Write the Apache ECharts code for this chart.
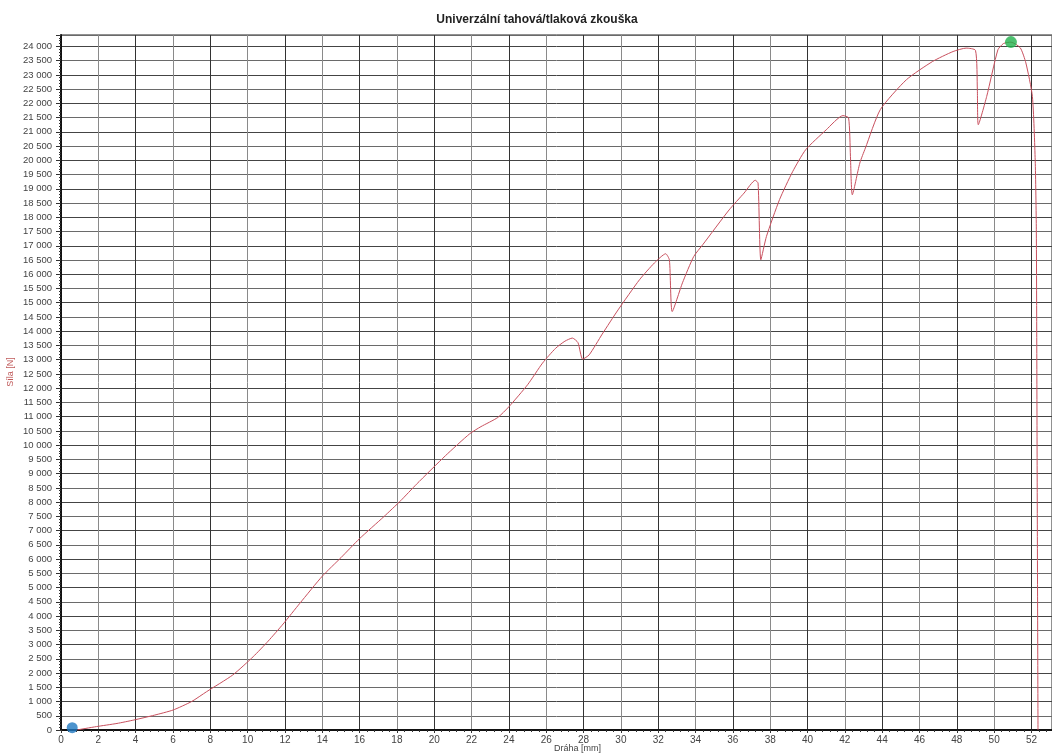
<!DOCTYPE html>
<html>
<head>
<meta charset="utf-8">
<script src="https://cdn.jsdelivr.net/npm/echarts@6/dist/echarts.min.js"></script>
<style>
html,body{margin:0;padding:0;background:#fff;}
#chart{width:1052px;height:754px;}
</style>
</head>
<body>
<div id="chart"></div>
<script>
// Distance [mm]
var drahaMm = [0.84, 1.9, 3.0, 3.9, 5.0, 6.0, 7.0, 7.8, 9.2, 10.3, 11.1, 11.9, 12.8, 14.0, 15.0, 16.0, 17.3, 18.2, 19.05, 20.6, 21.9, 22.5, 23.4, 24.0, 25.0, 25.8, 26.5, 27.0, 27.4, 27.7, 27.95, 28.3, 29.0, 29.85, 31.0, 31.8, 32.4, 32.6, 32.75, 33.3, 33.9, 34.4, 35.8, 36.6, 37.2, 37.35, 37.5, 37.8, 38.5, 39.2, 39.9, 41.0, 41.9, 42.2, 42.3, 42.4, 42.8, 43.1, 43.9, 45.3, 46.7, 47.8, 48.5, 49.0, 49.1, 49.15, 49.6, 50.2, 50.5, 50.9, 51.4, 51.7, 52.05, 52.2, 52.26, 52.3, 52.35];
// Force [N]
var silaN = [0, 120, 230, 350, 520, 700, 1000, 1345, 1930, 2575, 3120, 3720, 4450, 5400, 6050, 6720, 7490, 8050, 8630, 9630, 10400, 10650, 10970, 11350, 12120, 12880, 13400, 13650, 13760, 13600, 13020, 13170, 13900, 14750, 15810, 16400, 16720, 16500, 14690, 15700, 16620, 17050, 18260, 18850, 19300, 19200, 16510, 17330, 18620, 19600, 20370, 21070, 21570, 21490, 20140, 18790, 19900, 20430, 21780, 22830, 23470, 23820, 23940, 23860, 22480, 21250, 22240, 23880, 24100, 24150, 23950, 23420, 22240, 20000, 17560, 10000, 0];
// Markers
var startPoint = [0.6, 80];
var maxPoint = [50.9, 24150];

var titleText = 'Univerzální tahová/tlaková zkouška';
var xName = 'Dráha [mm]';
var yName = 'Síla [N]';

var curve = drahaMm.map(function (x, i) { return [x, silaN[i]]; });

function fmtThousands(v) {
  var s = String(Math.round(v));
  return s.replace(/\B(?=(\d{3})+(?!\d))/g, ' ');
}

var chart = echarts.init(document.getElementById('chart'), null, {renderer: 'canvas'});
chart.setOption({
  backgroundColor: '#ffffff',
  animation: false,
  title: {
    text: titleText,
    left: 532, top: 9, textAlign: 'center',
    textStyle: {fontFamily: 'Liberation Sans', fontSize: 12, fontWeight: 'bold', color: '#222'}
  },
  grid: {left: 61, right: 0, top: 35, bottom: 24, show: true, borderColor: '#222', borderWidth: 1, backgroundColor: 'transparent'},
  xAxis: {
    type: 'value', min: 0, max: 53.1, interval: 2,
    axisLine: {show: true, lineStyle: {color: '#111', width: 2}},
    axisTick: {show: true, length: 3, lineStyle: {color: '#333'}},
    minorTick: {show: true, splitNumber: 5, length: 2, lineStyle: {color: '#333'}},
    axisLabel: {
      showMaxLabel: false, color: '#444', fontFamily: 'Liberation Sans', fontSize: 10, margin: 5,
      formatter: function (v) { return (Math.abs(v - Math.round(v)) < 1e-6 && v <= 52) ? String(Math.round(v)) : ''; }
    },
    splitLine: {show: true, lineStyle: {color: ['#333', '#8a8a8a'], width: 1}}
  },
  yAxis: {
    type: 'value', min: 0, max: 24400, interval: 500,
    axisLine: {show: true, lineStyle: {color: '#111', width: 2}},
    axisTick: {show: true, length: 5, lineStyle: {color: '#333'}},
    minorTick: {show: true, splitNumber: 5, length: 2, lineStyle: {color: '#333'}},
    axisLabel: {
      showMaxLabel: false, color: '#444', fontFamily: 'Liberation Sans', fontSize: 9.5, margin: 9,
      formatter: function (v) { return v % 500 === 0 ? fmtThousands(v) : ''; }
    },
    splitLine: {show: true, lineStyle: {color: ['#444', '#6a6a6a'], width: 1}}
  },
  graphic: [
    {type: 'text', left: 578 - 24, top: 744, style: {text: xName, fill: '#444', fontFamily: 'Liberation Sans', fontSize: 9}},
    {type: 'text', x: 11, y: 372, rotation: Math.PI / 2, style: {text: yName, fill: '#c05a5a', fontFamily: 'Liberation Sans', fontSize: 9, textAlign: 'center', textVerticalAlign: 'middle'}}
  ],
  series: [
    {
      type: 'line', data: curve, showSymbol: false, smooth: 0.2,
      lineStyle: {color: '#c8505e', width: 1}, z: 3
    },
    {
      type: 'scatter', data: [startPoint], symbolSize: 11,
      itemStyle: {color: '#1f78c0'}, z: 4
    },
    {
      type: 'scatter', data: [maxPoint], symbolSize: 12,
      itemStyle: {color: '#22b14c'}, z: 4
    }
  ]
});
</script>
</body>
</html>
